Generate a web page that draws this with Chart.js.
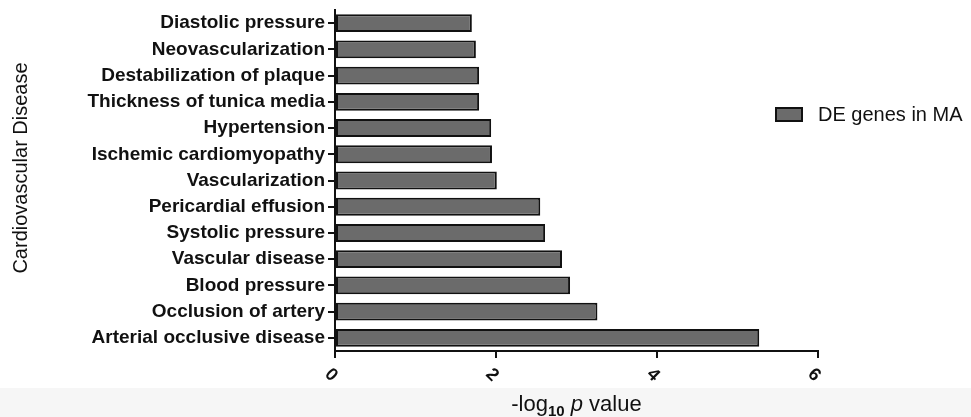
<!DOCTYPE html>
<html lang="en">
<head>
    <meta charset="UTF-8">
    <title>Cardiovascular Disease</title>
    <script src="https://cdn.jsdelivr.net/npm/chart.js"></script>
    <style>
        body { margin: 0; padding: 0; background: #ffffff; }
        .wrap { width: 971px; height: 417px; position: relative; }
    </style>
</head>
<body>
    <div class="wrap">
        <canvas id="grafico" width="971" height="417"></canvas>
    </div>
    <script>
        // datos
        const categorias = [
            "Diastolic pressure", "Neovascularization", "Destabilization of plaque",
            "Thickness of tunica media", "Hypertension", "Ischemic cardiomyopathy",
            "Vascularization", "Pericardial effusion", "Systolic pressure",
            "Vascular disease", "Blood pressure", "Occlusion of artery",
            "Arterial occlusive disease"
        ];
        const valores = [1.70, 1.75, 1.79, 1.79, 1.94, 1.95, 2.01, 2.55, 2.61, 2.82, 2.92, 3.26, 5.27];
        const serie = "DE genes in MA";
        const ticksX = [0, 2, 4, 6];

        const FONT = "'Liberation Sans', Arial, sans-serif";

        // fondo y franja gris inferior
        const fondo = {
            id: 'fondo',
            beforeDraw(chart) {
                const c = chart.ctx;
                c.save();
                c.fillStyle = '#ffffff';
                c.fillRect(0, 0, chart.width, chart.height);
                c.fillStyle = '#f6f6f6';
                c.fillRect(0, 388, chart.width, chart.height - 388);
                c.restore();
            }
        };

        // etiquetas del eje x giradas 45 grados en sentido horario
        const etiquetasX = {
            id: 'etiquetasX',
            afterDraw(chart) {
                const c = chart.ctx;
                const sx = chart.scales.x;
                c.save();
                c.fillStyle = '#111';
                c.font = 'bold 18px ' + FONT;
                c.textAlign = 'center';
                c.textBaseline = 'middle';
                sx.ticks.forEach(t => {
                    const px = sx.getPixelForValue(t.value);
                    c.save();
                    c.translate(px - 4, sx.top + 24);
                    c.rotate(Math.PI / 4);
                    c.fillText(String(t.value), 0, 0);
                    c.restore();
                });
                c.restore();
            }
        };

        // titulos de los ejes
        const titulos = {
            id: 'titulos',
            afterDraw(chart) {
                const c = chart.ctx;
                const area = chart.chartArea;
                // eje y
                c.save();
                c.fillStyle = '#111';
                c.font = '20px ' + FONT;
                c.textAlign = 'center';
                c.textBaseline = 'middle';
                c.translate(21, 168);
                c.rotate(-Math.PI / 2);
                c.fillText('Cardiovascular Disease', 0, 0);
                c.restore();
                // eje x con subindice y cursiva
                const partes = [
                    { t: '-log', f: '22px ' + FONT, dy: 0 },
                    { t: '10', f: 'bold 15px ' + FONT, dy: 5 },
                    { t: ' ', f: '22px ' + FONT, dy: 0 },
                    { t: 'p', f: 'italic 22px ' + FONT, dy: 0 },
                    { t: ' value', f: '22px ' + FONT, dy: 0 }
                ];
                c.save();
                let total = 0;
                partes.forEach(p => { c.font = p.f; total += c.measureText(p.t).width; });
                let x = (area.left + area.right) / 2 - total / 2;
                c.fillStyle = '#111';
                c.textBaseline = 'alphabetic';
                partes.forEach(p => {
                    c.font = p.f;
                    c.fillText(p.t, x, 411 + p.dy);
                    x += c.measureText(p.t).width;
                });
                c.restore();
            }
        };

        // leyenda a la derecha
        const leyenda = {
            id: 'leyenda',
            afterDraw(chart) {
                const c = chart.ctx;
                const ds = chart.data.datasets[0];
                c.save();
                c.fillStyle = ds.backgroundColor;
                c.strokeStyle = ds.borderColor;
                c.lineWidth = 2;
                c.fillRect(776, 108, 26, 13);
                c.strokeRect(776, 108, 26, 13);
                c.fillStyle = '#111';
                c.font = '20px ' + FONT;
                c.textBaseline = 'middle';
                c.fillText(ds.label, 818, 115);
                c.restore();
            }
        };

        new Chart(document.getElementById('grafico'), {
            type: 'bar',
            data: {
                labels: categorias,
                datasets: [{
                    label: serie,
                    data: valores,
                    backgroundColor: '#6b6b6b',
                    borderColor: '#111111',
                    borderWidth: 2,
                    borderSkipped: false,
                    categoryPercentage: 1,
                    barPercentage: 0.68
                }]
            },
            options: {
                indexAxis: 'y',
                responsive: false,
                animation: false,
                layout: { padding: { top: 10, right: 153, left: 0, bottom: 0 } },
                plugins: {
                    legend: { display: false },
                    tooltip: { enabled: false }
                },
                scales: {
                    x: {
                        min: 0,
                        max: 6,
                        afterBuildTicks(scale) {
                            scale.ticks = ticksX.map(v => ({ value: v }));
                        },
                        afterFit(scale) { scale.height = 66; },
                        grid: { drawOnChartArea: false, tickLength: 7, color: '#111', lineWidth: 2 },
                        border: { color: '#111', width: 2 },
                        ticks: { display: false }
                    },
                    y: {
                        afterFit(scale) {
                            scale.width = 335;
                            scale.paddingTop = 0;
                            scale.paddingBottom = 0;
                        },
                        grid: { drawOnChartArea: false, tickLength: 7, color: '#111', lineWidth: 2, offset: false },
                        border: { color: '#111', width: 2 },
                        ticks: {
                            color: '#111',
                            padding: 3,
                            autoSkip: false,
                            font: { family: FONT, size: 19, weight: 'bold' }
                        }
                    }
                }
            },
            plugins: [fondo, etiquetasX, titulos, leyenda]
        });
    </script>
</body>
</html>
